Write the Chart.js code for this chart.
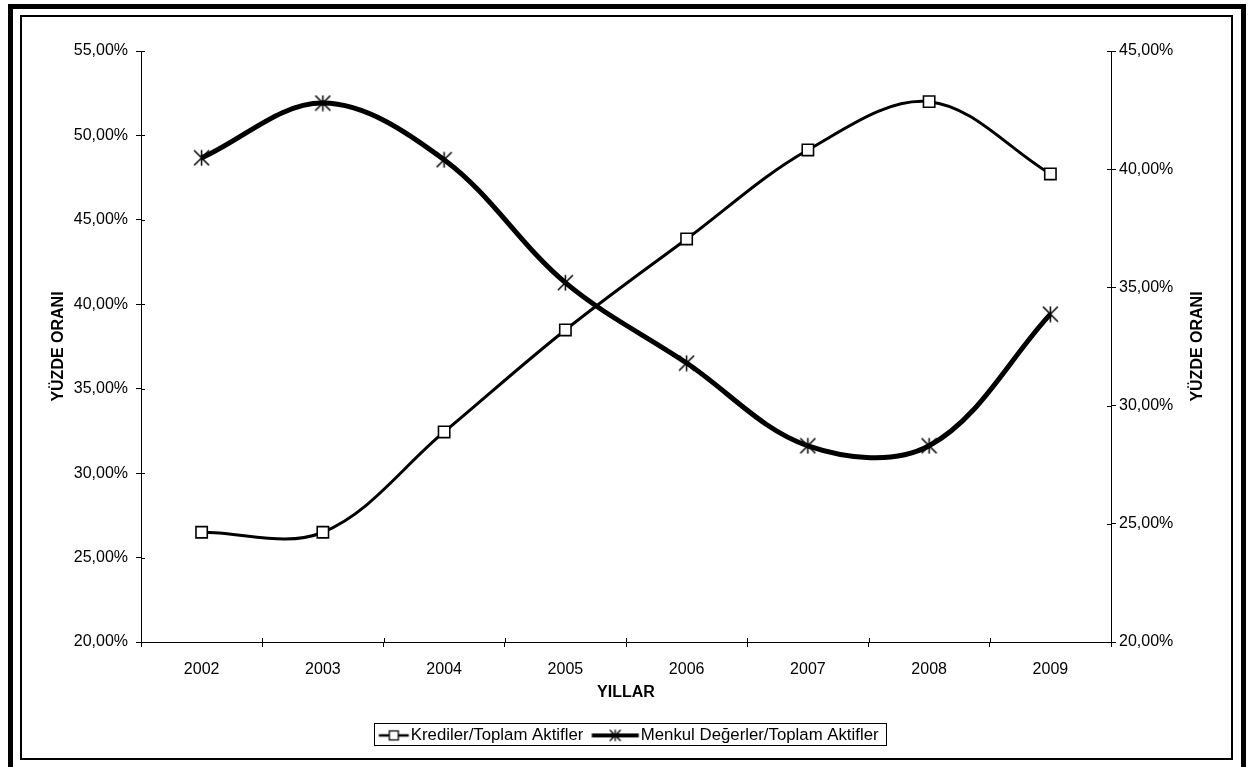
<!DOCTYPE html>
<html><head><meta charset="utf-8">
<script src="https://cdn.jsdelivr.net/npm/chart.js@4.4.0/dist/chart.umd.min.js"></script>
<style>
html,body{margin:0;padding:0;background:#fff;}
#wrap{position:relative;width:1249px;height:767px;overflow:hidden;background:#fff;}
#c{position:absolute;left:0;top:0;}
.outer{position:absolute;left:8px;top:4px;width:1238px;height:800px;border:5px solid #000;box-sizing:border-box;pointer-events:none;}
.inner{position:absolute;left:20px;top:15px;width:1213px;height:745px;border:2px solid #000;box-sizing:border-box;pointer-events:none;}
</style></head>
<body><div id="wrap"><canvas id="c" width="1249" height="767"></canvas><div class="outer"></div><div class="inner"></div></div>
<script>
const years = ['2002','2003','2004','2005','2006','2007','2008','2009'];
const kredilerValues = [26.5, 26.5, 32.44, 38.48, 43.87, 49.14, 52.0, 47.72];
const menkulValues = [40.48, 42.8, 40.4, 35.2, 31.8, 28.3, 28.3, 33.87];
const leftTicks = [20, 25, 30, 35, 40, 45, 50, 55];
const rightTicks = [20, 25, 30, 35, 40, 45];
const seriesNames = ['Krediler/Toplam Aktifler', 'Menkul Değerler/Toplam Aktifler'];
const xTitle = 'YILLAR';
const yTitle = 'YÜZDE ORANI';

const FAM = '"Liberation Sans", Arial, sans-serif';
const FS = 16;
const LFS = 16.8;
const fmt = v => v.toFixed(2).replace('.', ',') + '%';

function drawStar(g, cx, cy, r, lw){
  g.strokeStyle = '#000'; g.lineWidth = lw; g.beginPath();
  g.moveTo(cx - r, cy - r); g.lineTo(cx + r, cy + r);
  g.moveTo(cx + r, cy - r); g.lineTo(cx - r, cy + r);
  g.moveTo(cx, cy - r * 1.05); g.lineTo(cx, cy + r * 1.05);
  g.stroke();
}
function makeStar(size){
  const c = document.createElement('canvas'); c.width = size; c.height = size;
  const g = c.getContext('2d');
  drawStar(g, size/2, size/2, size/2 - 1, 1.5);
  return c;
}
const BW = 32;
function makeIcon(kind){
  const W = 56, H = 18;
  const c = document.createElement('canvas'); c.width = W; c.height = H;
  const g = c.getContext('2d');
  const cx = W/2, cy = H/2;
  const end = cx + BW/2 + LFS/2 - 2;
  const w = kind === 0 ? 30 : 47;
  const start = end - w;
  g.strokeStyle = '#000';
  g.lineWidth = kind === 0 ? 2.5 : 4;
  g.beginPath(); g.moveTo(start, cy); g.lineTo(end, cy); g.stroke();
  const mx = (start + end) / 2;
  if (kind === 0) {
    g.fillStyle = '#fff'; g.lineWidth = 1.3;
    g.fillRect(mx - 4.5, cy - 4.5, 9, 9); g.strokeRect(mx - 4.5, cy - 4.5, 9, 9);
  } else {
    drawStar(g, mx, cy, 5.5, 1.3);
  }
  c._visStart = start - cx;
  return c;
}
const starImg = makeStar(17);
const icons = [makeIcon(0), makeIcon(1)];

const extras = {
  id: 'extras',
  beforeDatasetsDraw(chart){
    const ctx = chart.ctx; const ca = chart.chartArea;
    ctx.save(); ctx.strokeStyle = '#000'; ctx.lineWidth = 1;
    const xs = chart.scales.x;
    for (let i = 0; i <= years.length; i++) {
      const px = Math.round(xs.getPixelForValue(i - 0.5)) + 0.5;
      ctx.beginPath(); ctx.moveTo(px, ca.bottom - 4); ctx.lineTo(px, ca.bottom); ctx.stroke();
    }
    const yl = chart.scales.y, yr = chart.scales.y1;
    yl.ticks.forEach(t => { const py = Math.round(yl.getPixelForValue(t.value)) + 0.5;
      ctx.beginPath(); ctx.moveTo(ca.left, py); ctx.lineTo(ca.left + 4, py); ctx.stroke(); });
    yr.ticks.forEach(t => { const py = Math.round(yr.getPixelForValue(t.value)) + 0.5;
      ctx.beginPath(); ctx.moveTo(ca.right - 4, py); ctx.lineTo(ca.right, py); ctx.stroke(); });
    ctx.restore();
  },
  afterDraw(chart){
    const ctx = chart.ctx; const ca = chart.chartArea;
    ctx.save();
    ctx.fillStyle = '#000';
    ctx.font = 'bold ' + FS + 'px ' + FAM;
    ctx.textAlign = 'center'; ctx.textBaseline = 'middle';
    const cy = (ca.top + ca.bottom) / 2;
    [ca.left - 82, ca.right + 87].forEach(x => {
      ctx.save(); ctx.translate(x, cy); ctx.rotate(-Math.PI/2); ctx.fillText(yTitle, 0, 0); ctx.restore();
    });
    const hb = chart.legend.legendHitBoxes;
    if (hb && hb.length) {
      const first = hb[0], last = hb[hb.length - 1];
      const left = first.left + BW/2 + icons[0]._visStart - 5;
      const right = last.left + last.width + 7;
      const mid = first.top + first.height / 2 - 1;
      ctx.strokeStyle = '#000'; ctx.lineWidth = 1;
      ctx.strokeRect(Math.round(left) + 0.5, Math.round(mid - 11) + 0.5, Math.round(right - left), 22);
    }
    ctx.restore();
  }
};

new Chart(document.getElementById('c'), {
  type: 'line',
  data: {
    labels: years,
    datasets: [
      { label: seriesNames[0], data: kredilerValues, yAxisID: 'y', borderColor: '#000', borderWidth: 3,
        tension: 0.35, pointStyle: 'rect', pointRadius: 8, pointBorderWidth: 1.6,
        pointBackgroundColor: '#fff', pointBorderColor: '#000', fill: false },
      { label: seriesNames[1], data: menkulValues, yAxisID: 'y1', borderColor: '#000', borderWidth: 5,
        tension: 0.35, pointStyle: starImg, pointRadius: 8, fill: false }
    ]
  },
  options: {
    responsive: false, animation: false, devicePixelRatio: 1,
    layout: { padding: { left: 22, right: 22, top: 51, bottom: 13.2 } },
    plugins: {
      tooltip: { enabled: false },
      legend: {
        position: 'bottom',
        labels: {
          usePointStyle: true, pointStyleWidth: BW, padding: 17, color: '#000',
          font: { family: FAM, size: LFS },
          generateLabels(chart){
            return chart.data.datasets.map((ds, i) => ({
              text: ds.label, pointStyle: icons[i], fillStyle: '#fff', strokeStyle: '#000',
              lineWidth: 0, hidden: false, datasetIndex: i, fontColor: '#000'
            }));
          }
        }
      }
    },
    scales: {
      x: {
        type: 'category', offset: true,
        grid: { display: true, offset: true, drawOnChartArea: false, drawTicks: true, tickLength: 5, color: '#000' },
        border: { display: true, color: '#000', width: 1 },
        ticks: { color: '#000', font: { family: FAM, size: FS }, padding: 13.4, maxRotation: 0 },
        title: { display: true, text: xTitle, color: '#000', font: { family: FAM, size: FS, weight: 'bold' }, padding: { top: 4, bottom: 7.4 } },
        afterFit(s){ s.height = 68; }
      },
      y: {
        position: 'left', min: leftTicks[0], max: leftTicks[leftTicks.length - 1],
        afterBuildTicks(s){ s.ticks = leftTicks.map(v => ({ value: v })); },
        grid: { display: true, drawOnChartArea: false, drawTicks: true, tickLength: 5, color: '#000' },
        border: { display: true, color: '#000', width: 1 },
        ticks: { color: '#000', font: { family: FAM, size: FS }, padding: 8, callback: v => fmt(v) },
        afterFit(s){ s.width = 119; }
      },
      y1: {
        position: 'right', min: rightTicks[0], max: rightTicks[rightTicks.length - 1],
        afterBuildTicks(s){ s.ticks = rightTicks.map(v => ({ value: v })); },
        grid: { display: true, drawOnChartArea: false, drawTicks: true, tickLength: 5, color: '#000' },
        border: { display: true, color: '#000', width: 1 },
        ticks: { color: '#000', font: { family: FAM, size: FS }, padding: 3, callback: v => fmt(v) },
        afterFit(s){ s.width = 116; }
      }
    }
  },
  plugins: [extras]
});
</script>
</body></html>
